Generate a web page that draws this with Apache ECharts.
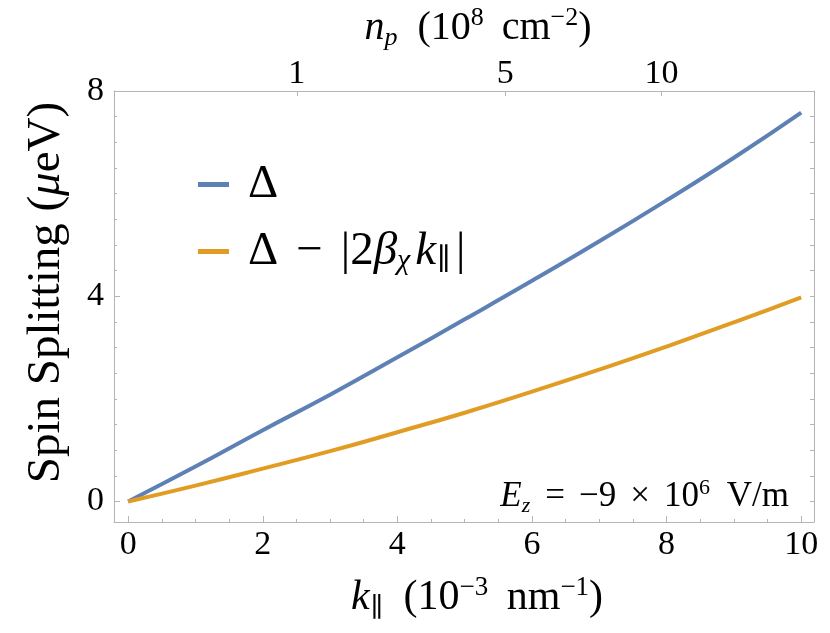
<!DOCTYPE html>
<html><head><meta charset="utf-8">
<script src="https://cdn.jsdelivr.net/npm/echarts@6/dist/echarts.min.js"></script>
<style>html,body{margin:0;padding:0;background:#fff}#c{width:830px;height:633px}</style>
</head><body><div id="c"></div>
<script>
// ---- data ----
const kValues = [0, 1, 2, 3, 4, 5, 6, 7, 8, 9, 10];
const deltaValues = [0, 0.68, 1.39, 2.08, 2.81, 3.55, 4.30, 5.07, 5.87, 6.70, 7.58];
const reducedValues = [0, 0.31, 0.64, 0.98, 1.35, 1.73, 2.14, 2.57, 3.02, 3.49, 3.98];
const xTickLabels = [0, 2, 4, 6, 8, 10];
const xMinorTicks = [0.5, 1, 1.5, 2.5, 3, 3.5, 4.5, 5, 5.5, 6.5, 7, 7.5, 8.5, 9, 9.5];
const yTickLabels = [0, 4, 8];
const yMinorTicks = [0.5, 1, 1.5, 2, 2.5, 3, 3.5, 4.5, 5, 5.5, 6, 6.5, 7, 7.5];
const yAllTicks = [0, 0.5, 1, 1.5, 2, 2.5, 3, 3.5, 4, 4.5, 5, 5.5, 6, 6.5, 7, 7.5, 8];
const npTickLabels = [1, 5, 10];
const kAtUnitDensity = 2.506; // k (1e-3 nm^-1) where n_p = 1 (1e8 cm^-2); n_p ∝ k^2

const seriesNames = ['Δ', 'Δ − |2βχk∥|'];
const FONT = '"Liberation Serif", "DejaVu Serif", serif';
const frameColor = '#b4b4b4';

const chart = echarts.init(document.getElementById('c'), null, {renderer: 'canvas'});
const npToK = n => kAtUnitDensity * Math.sqrt(n);
const kToNp = k => Math.round((k / kAtUnitDensity) ** 2);

const XMIN = -0.21, XMAX = 10.19, YMIN = -0.4, YMAX = 8;
const line = {show: true, onZero: false, lineStyle: {color: frameColor, width: 1}};
const noLine = {show: false, onZero: false};
const lblStyle = {color: '#000', fontFamily: FONT, fontSize: 34, fontWeight: 'normal'};

function richSet(size, lh, opPad, subPad) {
  const s = Math.round(size * 0.64);
  return {
    i: {fontStyle: 'italic', fontFamily: FONT, fontSize: size, lineHeight: lh},
    n: {fontFamily: FONT, fontSize: size, lineHeight: lh},
    op: {fontFamily: FONT, fontSize: size, lineHeight: lh, padding: [0, opPad, 0, opPad]},
    sp: {fontFamily: FONT, fontSize: size, lineHeight: lh, padding: [0, Math.round(size * 0.1), 0, Math.round(size * 0.1)]},
    sup: {fontFamily: FONT, fontSize: s, lineHeight: s, verticalAlign: 'top'},
    sub: {fontFamily: FONT, fontSize: s, lineHeight: s, verticalAlign: 'bottom', fontStyle: 'italic', padding: [0, subPad, 0, 0]},
    subn: {fontFamily: FONT, fontSize: s, lineHeight: s, verticalAlign: 'bottom', padding: [0, subPad, 0, 1]}
  };
}

chart.setOption({
  animation: false,
  backgroundColor: '#fff',
  grid: {left: 114, right: 16, top: 91, bottom: 111, show: false, outerBoundsMode: 'none', containLabel: false},
  xAxis: [
    {type: 'value', position: 'bottom', min: XMIN, max: XMAX, axisLine: line,
     splitLine: {show: false},
     axisTick: {show: true, inside: true, length: 6, customValues: xTickLabels, lineStyle: {color: frameColor}},
     axisLabel: {show: true, customValues: xTickLabels, margin: 6, ...lblStyle},
     name: '{i|k}{subn|∥}{sp| }{n|(10}{sup|−3}{sp| }{n|nm}{sup|−1}{n|)}', nameLocation: 'middle', nameGap: 52,
     nameTextStyle: {color: '#000', fontFamily: FONT, fontSize: 42, padding: [0, 0, 0, 26], rich: richSet(42, 48, 12, 2)}},
    {type: 'value', position: 'bottom', min: XMIN, max: XMAX, axisLine: noLine, splitLine: {show: false},
     axisTick: {show: true, inside: true, length: 3, customValues: xMinorTicks, lineStyle: {color: frameColor}},
     axisLabel: {show: false}},
    {type: 'value', position: 'top', min: XMIN, max: XMAX, axisLine: line, splitLine: {show: false},
     axisTick: {show: true, inside: true, length: 5, customValues: npTickLabels.map(npToK), lineStyle: {color: frameColor}},
     axisLabel: {show: true, customValues: npTickLabels.map(npToK), formatter: v => String(kToNp(v)), margin: 0, ...lblStyle},
     name: '{i|n}{sub|p}{sp| }{n|(10}{sup|8}{sp| }{n|cm}{sup|−2}{n|)}', nameLocation: 'middle', nameGap: 40,
     nameTextStyle: {color: '#000', fontFamily: FONT, fontSize: 40, padding: [0, 0, 0, 28], rich: richSet(40, 46, 12, 2)}}
  ],
  yAxis: [
    {type: 'value', position: 'left', min: YMIN, max: YMAX, axisLine: line, splitLine: {show: false},
     axisTick: {show: true, inside: true, length: 6, customValues: yTickLabels, lineStyle: {color: frameColor}},
     axisLabel: {show: true, customValues: yTickLabels, margin: 10, ...lblStyle},
     name: '{n|Spin Splitting (}{i|μ}{n|eV)}', nameLocation: 'middle', nameGap: 44, nameRotate: 90,
     nameTextStyle: {color: '#000', fontFamily: FONT, fontSize: 47, padding: [0, 0, 0, 28],
       rich: {n: {fontFamily: FONT, fontSize: 47}, i: {fontFamily: FONT, fontSize: 47, fontStyle: 'italic'}}}},
    {type: 'value', position: 'left', min: YMIN, max: YMAX, axisLine: noLine, splitLine: {show: false},
     axisTick: {show: true, inside: true, length: 3, customValues: yMinorTicks, lineStyle: {color: frameColor}},
     axisLabel: {show: false}},
    {type: 'value', position: 'right', min: YMIN, max: YMAX, axisLine: line, splitLine: {show: false},
     axisTick: {show: true, inside: true, length: 4, customValues: yAllTicks, lineStyle: {color: frameColor}},
     axisLabel: {show: false}}
  ],
  legend: {
    show: true, orient: 'vertical', left: 193, top: 156, itemGap: 20,
    icon: 'rect', itemWidth: 31, itemHeight: 5,
    data: seriesNames,
    formatter: name => name === seriesNames[0] ? '{n|Δ}' : '{n|Δ}{op|−}{n||2}{i|β}{sub|χ}{i|k}{subn|∥}{n||}',
    textStyle: {color: '#000', fontFamily: FONT, fontSize: 47, padding: [0, 0, 0, 14],
      rich: richSet(47, 50, 18, 5)}
  },
  title: {
    show: true, right: 36, top: 472,
    text: '{i|E}{sub|z}{op|=}{n|−9}{op|×}{n|10}{sup|6}{sp| }{n|V/m}',
    textStyle: {color: '#000', fontFamily: FONT, fontSize: 35, fontWeight: 'normal',
      rich: richSet(35, 40, 14, 1)}
  },
  series: [
    {name: seriesNames[0], type: 'line', xAxisIndex: 0, yAxisIndex: 0, smooth: true, showSymbol: false,
     lineStyle: {color: '#5E81B5', width: 4}, itemStyle: {color: '#5E81B5'},
     data: kValues.map((k, i) => [k, deltaValues[i]])},
    {name: seriesNames[1], type: 'line', xAxisIndex: 0, yAxisIndex: 0, smooth: true, showSymbol: false,
     lineStyle: {color: '#E19C24', width: 4}, itemStyle: {color: '#E19C24'},
     data: kValues.map((k, i) => [k, reducedValues[i]])}
  ]
});
</script></body></html>
